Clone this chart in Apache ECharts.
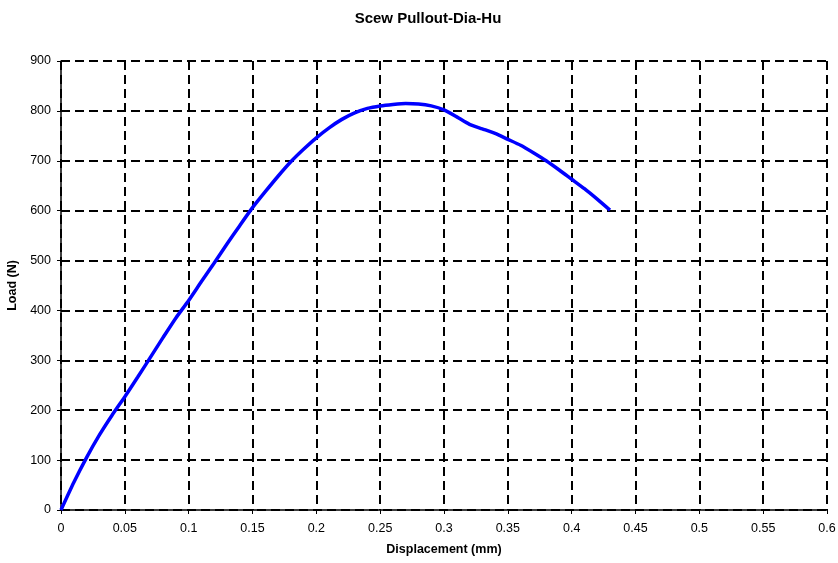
<!DOCTYPE html>
<html>
<head>
<meta charset="utf-8">
<script src="https://cdn.jsdelivr.net/npm/echarts@6/dist/echarts.min.js"></script>
<style>
  html, body { margin: 0; padding: 0; background: #fff; }
  #chart { width: 838px; height: 563px; }
</style>
</head>
<body>
<div id="chart"></div>
<script>
// displacement (mm)
var displacement = [0, 0.01, 0.02, 0.03, 0.04, 0.05, 0.06, 0.07, 0.08, 0.09,
  0.1, 0.11, 0.12, 0.13, 0.14, 0.15, 0.16, 0.17, 0.18, 0.19,
  0.2, 0.21, 0.22, 0.23, 0.24, 0.25, 0.26, 0.27, 0.28, 0.29,
  0.3, 0.31, 0.32, 0.33, 0.34, 0.35, 0.36, 0.37, 0.38, 0.39,
  0.4, 0.41, 0.42, 0.43]
// load (N)
var load = [0, 55, 105, 150, 190, 227, 266, 306, 346, 385,
  420, 458, 495, 533, 570, 606, 638, 669, 698, 723,
  746, 766, 783, 796, 805, 810, 813, 815, 814, 810,
  802, 788, 773, 764, 755, 743, 731, 716, 700, 682,
  663, 644, 623, 601]

var points = displacement.map(function (x, i) { return [x, load[i]] })

var font = 'Liberation Sans, Arial, sans-serif'
var gridLine = { show: true, lineStyle: { color: '#000', type: [9, 5], width: 2 } }

var chart = echarts.init(document.getElementById('chart'))
chart.setOption({
  animation: false,
  title: {
    text: 'Scew Pullout-Dia-Hu',
    left: 423,
    top: 6,
    textAlign: 'center',
    textStyle: { fontFamily: font, fontSize: 15, fontWeight: 'bold', color: '#000' }
  },
  grid: { left: 61, right: 11, top: 61, bottom: 53, containLabel: false, outerBoundsMode: 'none' },
  xAxis: {
    type: 'value',
    min: 0,
    max: 0.6,
    interval: 0.05,
    name: 'Displacement (mm)',
    nameLocation: 'middle',
    nameGap: 33,
    nameTextStyle: { fontFamily: font, fontSize: 12.5, fontWeight: 'bold', color: '#000' },
    axisLine: { show: true, lineStyle: { color: '#000', width: 1.5 } },
    axisTick: { show: true, length: 4, lineStyle: { color: '#000' } },
    axisLabel: { fontFamily: font, fontSize: 12.5, color: '#000', margin: 12 },
    splitLine: gridLine
  },
  yAxis: {
    type: 'value',
    min: 0,
    max: 900,
    interval: 100,
    name: 'Load (N)',
    nameLocation: 'middle',
    nameGap: 34,
    nameTextStyle: { fontFamily: font, fontSize: 12.5, fontWeight: 'bold', color: '#000' },
    axisLine: { show: true, lineStyle: { color: '#000', width: 1.5 } },
    axisTick: { show: true, length: 4, lineStyle: { color: '#000' } },
    axisLabel: { fontFamily: font, fontSize: 12.5, color: '#000', margin: 10 },
    splitLine: gridLine
  },
  series: [{
    type: 'line',
    data: points,
    showSymbol: false,
    smooth: 0.2,
    lineStyle: { color: '#0000ff', width: 3.5 }
  }]
})
</script>
</body>
</html>
